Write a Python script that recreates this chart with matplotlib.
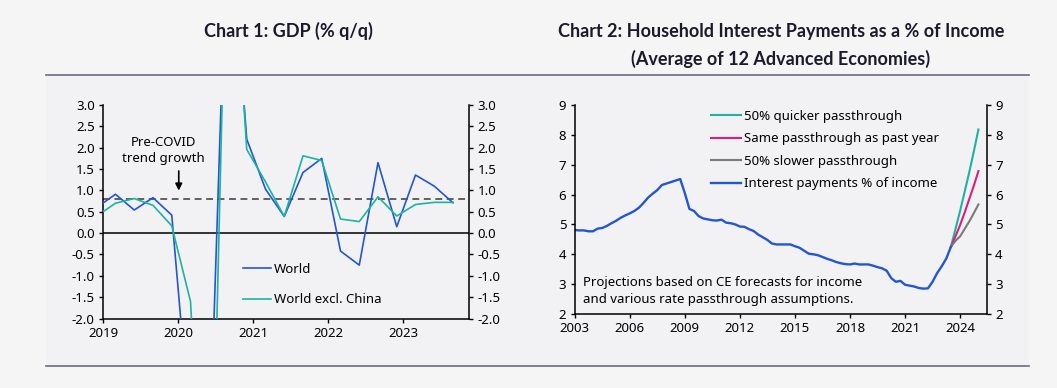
import matplotlib
matplotlib.use("Agg")
import matplotlib.pyplot as plt
import numpy as np
from matplotlib.patches import Rectangle
from matplotlib.lines import Line2D

plt.rcParams['font.family'] = ['Noto Sans', 'DejaVu Sans']
plt.rcParams['axes.unicode_minus'] = False

# ---------------- Chart 1 data (quarterly, % q/q) ----------------
gdp_quarters = ["2018Q4", "2019Q1", "2019Q2", "2019Q3", "2019Q4",
                "2020Q1", "2020Q2", "2020Q3", "2020Q4",
                "2021Q1", "2021Q2", "2021Q3", "2021Q4",
                "2022Q1", "2022Q2", "2022Q3", "2022Q4",
                "2023Q1", "2023Q2", "2023Q3"]
world = [0.60, 0.91, 0.54, 0.83, 0.42,
         -4.65, -5.4, 8.0, 2.2,
         1.03, 0.39, 1.42, 1.75,
         -0.42, -0.75, 1.65, 0.15,
         1.36, 1.10, 0.71]
world_ex_china = [0.40, 0.70, 0.81, 0.65, 0.17,
                  -1.60, -9.5, 8.8, 1.96,
                  1.20, 0.39, 1.81, 1.70,
                  0.33, 0.27, 0.85, 0.40,
                  0.67, 0.72, 0.72]
trend_growth = 0.8
gdp_year_ticks = [2019, 2020, 2021, 2022, 2023]
gdp_y_ticks = [-2.0, -1.5, -1.0, -0.5, 0.0, 0.5, 1.0, 1.5, 2.0, 2.5, 3.0]

# ---------------- Chart 2 data (quarterly, % of income) ----------------
ip_start_year = 2003
interest_payments = [
    4.81, 4.80, 4.80, 4.77,   # 2003
    4.77, 4.86, 4.88, 4.95,   # 2004
    5.04, 5.12, 5.22, 5.30,   # 2005
    5.37, 5.45, 5.56, 5.72,   # 2006
    5.90, 6.03, 6.15, 6.32,   # 2007
    6.37, 6.42, 6.47, 6.52,   # 2008
    6.05, 5.52, 5.45, 5.28,   # 2009
    5.20, 5.17, 5.14, 5.13,   # 2010
    5.16, 5.06, 5.04, 5.00,   # 2011
    4.93, 4.92, 4.84, 4.78,   # 2012
    4.66, 4.57, 4.48, 4.36,   # 2013
    4.33, 4.33, 4.33, 4.33,   # 2014
    4.27, 4.22, 4.12, 4.02,   # 2015
    4.00, 3.97, 3.91, 3.85,   # 2016
    3.80, 3.74, 3.70, 3.67,   # 2017
    3.66, 3.69, 3.66, 3.66,   # 2018
    3.66, 3.62, 3.57, 3.53,   # 2019
    3.45, 3.20, 3.08, 3.11,   # 2020
    2.98, 2.95, 2.92, 2.87,   # 2021
    2.85, 2.86, 3.08, 3.37,   # 2022
    3.60, 3.86, 4.25,         # 2023 H1 + Q3 start
]
proj_quarters = ["2023Q3", "2023Q4", "2024Q1", "2024Q2", "2024Q3", "2024Q4", "2025Q1"]
proj_quicker = [4.25, 4.85, 5.45, 6.10, 6.75, 7.45, 8.18]
proj_same = [4.25, 4.60, 4.98, 5.40, 5.85, 6.30, 6.79]
proj_slower = [4.25, 4.45, 4.60, 4.85, 5.10, 5.38, 5.67]
ip_year_ticks = [2003, 2006, 2009, 2012, 2015, 2018, 2021, 2024]
ip_y_ticks = [2, 3, 4, 5, 6, 7, 8, 9]


def q_to_year_end_month(q):
    """Quarter label -> decimal year at quarter-end month."""
    y, qq = int(q[:4]), int(q[-1])
    return y + (3 * qq - 1) / 12.0


def q_to_year_start(q):
    y, qq = int(q[:4]), int(q[-1])
    return y + (qq - 1) / 4.0


BLUE = "#2456d1"
TEAL = "#1db3a0"
PINK = "#d8207c"
GRAY = "#7a7a7a"
FIG_BG = "#f5f5f5"
PANEL_BG = "#f2f2f5"
RULE = "#6b6b80"

fig = plt.figure(figsize=(10.57, 3.88), dpi=100)
fig.patch.set_facecolor(FIG_BG)

W, H = 1057.0, 388.0
# panel background and rules
fig.add_artist(Rectangle((46 / W, 1 - 366 / H), (1029 - 46) / W, (366 - 75) / H,
                         transform=fig.transFigure, facecolor=PANEL_BG,
                         edgecolor='none', zorder=-5))
fig.add_artist(Line2D([46 / W, 1029 / W], [1 - 75 / H, 1 - 75 / H], color=RULE, lw=1.2))
fig.add_artist(Line2D([46 / W, 1029 / W], [1 - 366 / H, 1 - 366 / H], color=RULE, lw=1.2))

# titles
TITLE_FONT = dict(family=['Lato', 'Noto Sans', 'DejaVu Sans'], fontweight='bold',
                  fontsize=13, color='#1a1a2a')
fig.text(288 / W, 1 - 31 / H, "Chart 1: GDP (% q/q)", ha='center', va='center', **TITLE_FONT)
fig.text(781 / W, 1 - 31 / H, "Chart 2: Household Interest Payments as a % of Income",
         ha='center', va='center', **TITLE_FONT)
fig.text(781 / W, 1 - 59 / H, "(Average of 12 Advanced Economies)",
         ha='center', va='center', **TITLE_FONT)


def style_axes(ax):
    ax.set_facecolor('none')
    ax.spines['top'].set_visible(False)
    for s in ['left', 'right', 'bottom']:
        ax.spines[s].set_linewidth(1.1)
        ax.spines[s].set_color('black')
    ax.tick_params(axis='both', direction='out', length=3, width=1, labelsize=9.5,
                   colors='black', pad=3)
    ax.tick_params(axis='y', which='both', left=True, right=True,
                   labelleft=True, labelright=True)


# ---------------- Chart 1 ----------------
ax1 = fig.add_axes([103 / W, 1 - 318.5 / H, 366 / W, 213.5 / H])
style_axes(ax1)
x1 = [q_to_year_end_month(q) for q in gdp_quarters]
ax1.axhline(0, color='black', lw=1.1, zorder=2)
ax1.axhline(trend_growth, color='#3a3a3a', lw=1.1, ls=(0, (4.5, 3)), zorder=2)
l_world, = ax1.plot(x1, world, color=BLUE, lw=1.2, zorder=3, label="World")
l_wxc, = ax1.plot(x1, world_ex_china, color=TEAL, lw=1.2, zorder=3, label="World excl. China")
ax1.set_xlim(2019, 2023.88)
ax1.set_ylim(-2.0, 3.0)
ax1.set_xticks(gdp_year_ticks)
ax1.set_xticklabels([str(y) for y in gdp_year_ticks])
ax1.set_yticks(gdp_y_ticks)
ax1.set_yticklabels([f"{v:.1f}" for v in gdp_y_ticks])
ax1.annotate("", xy=(2020.01, 0.93), xytext=(2020.01, 1.52),
             arrowprops=dict(arrowstyle='-|>', color='black', lw=1.2, mutation_scale=10))
ax1.text(2019.81, 1.93, "Pre-COVID\ntrend growth", ha='center', va='center',
         fontsize=9.5, linespacing=1.35)
ax1.legend(handles=[l_world, l_wxc], loc='upper left', bbox_to_anchor=(0.383, 0.262),
           frameon=False, fontsize=9.5, handlelength=2.1, handletextpad=0.25,
           labelspacing=1.35, borderaxespad=0, borderpad=0)

# ---------------- Chart 2 ----------------
ax2 = fig.add_axes([574.7 / W, 1 - 314 / H, 412 / W, 209 / H])
style_axes(ax2)
x2 = [ip_start_year + i / 4.0 for i in range(len(interest_payments))]
xp = [q_to_year_start(q) for q in proj_quarters]
h_q, = ax2.plot(xp, proj_quicker, color=TEAL, lw=1.5, label="50% quicker passthrough")
h_s, = ax2.plot(xp, proj_same, color=PINK, lw=1.5, label="Same passthrough as past year")
h_sl, = ax2.plot(xp, proj_slower, color=GRAY, lw=1.5, label="50% slower passthrough")
h_ip, = ax2.plot(x2, interest_payments, color=BLUE, lw=1.7, label="Interest payments % of income")
ax2.set_xlim(2003, 2025.45)
ax2.set_ylim(2, 9)
ax2.set_xticks(ip_year_ticks)
ax2.set_xticklabels([str(y) for y in ip_year_ticks])
ax2.set_yticks(ip_y_ticks)
ax2.set_yticklabels([str(v) for v in ip_y_ticks])
ax2.legend(handles=[h_q, h_s, h_sl, h_ip], loc='upper left', bbox_to_anchor=(0.33, 0.977),
           frameon=False, fontsize=9.5, handlelength=2.3, handletextpad=0.25,
           labelspacing=0.72, borderaxespad=0, borderpad=0)
ax2.text(0.019, 0.11, "Projections based on CE forecasts for income\nand various rate passthrough assumptions.",
         transform=ax2.transAxes, ha='left', va='center', fontsize=9.5, linespacing=1.4)

fig.savefig("out.png", dpi=100, facecolor=FIG_BG)
